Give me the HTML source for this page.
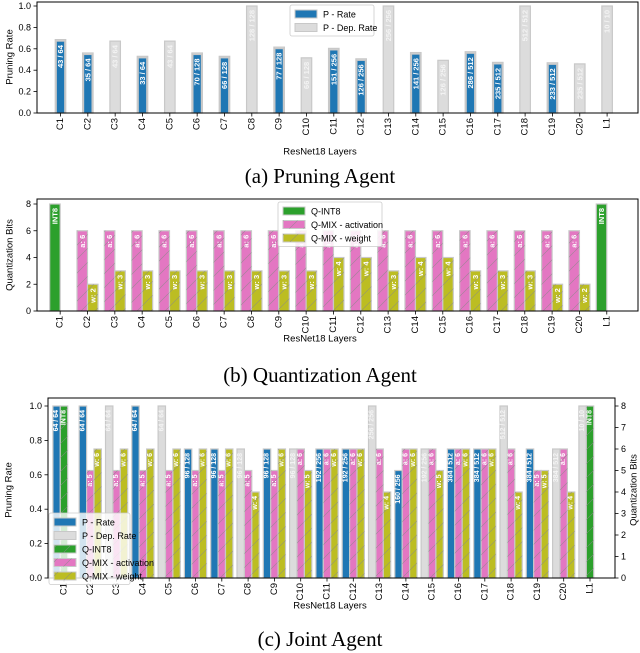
<!DOCTYPE html>
<html><head><meta charset="utf-8">
<style>
body{margin:0;background:#fff;width:640px;height:653px;overflow:hidden;font-family:"Liberation Sans",sans-serif}
svg{display:block}
.cap{font-family:"Liberation Serif",serif;font-size:21px;fill:#000}
</style></head>
<body>
<svg id="fig" width="640" height="653" viewBox="0 0 640 653" xmlns="http://www.w3.org/2000/svg">
<defs>
<pattern id="hatch" patternUnits="userSpaceOnUse" width="14" height="14" patternTransform="rotate(0)">
<path d="M0,14 L14,0" stroke="#888" stroke-width="0.6" opacity="0.8"/>
</pattern>
</defs>
<text class="cap" x="320" y="183" text-anchor="middle">(a) Pruning Agent</text>
<text class="cap" x="320" y="382" text-anchor="middle">(b) Quantization Agent</text>
<text class="cap" x="320" y="646" text-anchor="middle">(c) Joint Agent</text>
</svg>
<script>
const layers = ["C1","C2","C3","C4","C5","C6","C7","C8","C9","C10","C11","C12","C13","C14","C15","C16","C17","C18","C19","C20","L1"];
// chart a
const aKind = ["p","p","d","p","d","p","p","d","p","d","p","p","d","p","d","p","p","d","p","d","d"];
const aPruned = [43,35,43,33,43,70,66,128,77,66,151,126,256,141,126,286,235,512,233,235,10];
const aTotal = [64,64,64,64,64,128,128,128,128,128,256,256,256,256,256,512,512,512,512,512,10];
const aYTicks = [0,0.2,0.4,0.6,0.8,1.0];
// chart b
const bAct = [8,6,6,6,6,6,6,6,6,6,6,6,6,6,6,6,6,6,6,6,8];
const bWeight = [0,2,3,3,3,3,3,3,3,3,4,4,3,4,4,3,3,3,2,2,0];
const bYTicks = [0,2,4,6,8];
// chart c
const cKind = ["p","p","d","p","d","p","p","d","p","d","p","p","d","p","d","p","p","d","p","d","d"];
const cPruned = [64,64,64,64,64,96,96,96,96,96,192,192,256,160,192,384,384,512,384,384,10];
const cTotal = [64,64,64,64,64,128,128,128,128,128,256,256,256,256,256,512,512,512,512,512,10];
const cAct = [8,5,5,5,5,5,5,5,5,6,6,6,6,6,6,6,6,6,5,6,8];
const cWeight = [0,6,6,6,6,6,6,4,6,5,6,6,4,6,5,6,6,4,5,4,0];
const cYTicks = [0,0.2,0.4,0.6,0.8,1.0];
const cY2Ticks = [0,1,2,3,4,5,6,7,8];

const NS="http://www.w3.org/2000/svg";
const fig=document.getElementById('fig');
function el(tag,attrs,parent){const e=document.createElementNS(NS,tag);for(const k in attrs)e.setAttribute(k,attrs[k]);(parent||fig).appendChild(e);return e;}
const C={blue:"#1f77b4",gray:"#dcdcdc",green:"#2ca02c",pink:"#e377c2",yellow:"#bcbd22",edge:"#c8c8c8"};

function bar(x,w,yTop,yBot,fill,hatch,name){
  const r=el('rect',{x:x,y:yTop,width:w,height:Math.max(0,yBot-yTop),fill:fill,stroke:C.edge,'stroke-width':1.2});
  
  
  if(hatch){const h=el('rect',{x:x,y:yTop,width:w,height:Math.max(0,yBot-yTop),fill:'url(#hatch)'});
    
    }
  return r;
}
function vtext(x,y,str,color,size,bold,name){
  const t=el('text',{x:0,y:0,transform:`translate(${x},${y}) rotate(-90)`,'text-anchor':'end','dominant-baseline':'central','font-size':size,'font-weight':bold?'bold':'normal',fill:color});
  t.textContent=str;
  
  
  return t;
}
function frame(x0,x1,y0,y1,name){const r=el('rect',{x:x0,y:y0,width:x1-x0,height:y1-y0,fill:'none',stroke:'#000','stroke-width':1});
  
  }
function yAxis(ticks,fy,x,labelFn,right,name){
  ticks.forEach(v=>{const y=fy(v);
    el('line',{x1:x,x2:right?x+3.5:x-3.5,y1:y,y2:y,stroke:'#000','stroke-width':0.8});
    const t=el('text',{x:right?x+6:x-6,y:y,'text-anchor':right?'start':'end','dominant-baseline':'central','font-size':9,fill:'#000'});
    t.textContent=labelFn(v);
    
    
  });
}
function xAxis(fx,yb,name){
  layers.forEach((l,i)=>{const x=fx(i);
    el('line',{x1:x,x2:x,y1:yb,y2:yb+3.5,stroke:'#000','stroke-width':0.8});
    vtext(x,yb+5,l,'#000',9.5,false,name+'-tick-label');
  });
}
function title(x,y,str,rot,name){
  const t=el('text',{x:0,y:0,transform:`translate(${x},${y}) rotate(${rot})`,'text-anchor':'middle','dominant-baseline':'central','font-size':9.5,fill:'#000'});
  t.textContent=str;
  
  
}
function legend(x,y,w,entries,name,alpha){
  const g=el('g',{});
  
  
  el('rect',{x:x,y:y,width:w,height:entries.length*13.5+4,rx:2,fill:'#fff','fill-opacity':alpha,stroke:'#ccc','stroke-width':0.8},g);
  entries.forEach((e,k)=>{const yy=y+4+k*13.5;
    el('rect',{x:x+5,y:yy+1,width:22,height:8,fill:e[1],stroke:C.edge,'stroke-width':1},g);
    if(e[2])el('rect',{x:x+5,y:yy+1,width:22,height:8,fill:'url(#hatch)'},g);
    const t=el('text',{x:x+33,y:yy+5.5,'dominant-baseline':'central','font-size':9,fill:'#000'},g);
    t.textContent=e[0];
    
    
  });
}

// ---------- Chart A ----------
(function(){
  const x0=37,x1=638,y0=2,yb=113;
  const fx=i=>60.5+i*27.33, fy=v=>yb-v*(yb-6)/1.0;
  const w=10.5;
  layers.forEach((l,i)=>{
    const v=aPruned[i]/aTotal[i];const cx=fx(i);
    if(aKind[i]==='p'){
      bar(cx-w/2,w,fy(v)-1.5,yb,C.gray,false,'dep-bar-'+l);
      bar(cx-w/2+1,w-2,fy(v),yb,C.blue,false,'rate-bar-'+l);
    } else bar(cx-w/2,w,fy(v),yb,C.gray,false,'dep-bar-'+l);
    vtext(cx,fy(v)+4,aPruned[i]+' / '+aTotal[i],aKind[i]==='p'?'#fff':'#f4f4f4',7.5,true,'bar-label-'+l);
  });
  frame(x0,x1,y0,yb,'chart-a-frame');
  yAxis(aYTicks,fy,x0,v=>v.toFixed(1),false,'chart-a-y');
  xAxis(fx,yb,'chart-a-x');
  title(10,57,'Pruning Rate',-90,'chart-a-y-title');
  title(320,152,'ResNet18 Layers',0,'chart-a-x-title');
  legend(290,5,84,[['P - Rate',C.blue],['P - Dep. Rate',C.gray]],'chart-a-legend',0.85);
})();

// ---------- Chart B ----------
(function(){
  const x0=37,x1=638,y0=199,yb=311;
  const fx=i=>87.5+(i-1)*27.33, fy=v=>yb-v*(yb-204)/8;
  const w=10.5;
  layers.forEach((l,i)=>{
    const cx=fx(i);
    if(bWeight[i]===0){
      bar(cx-w,w,fy(bAct[i]),yb,C.green,false,'int8-bar-'+l);
      vtext(cx-w/2,fy(bAct[i])+4,'INT8','#fff',7.5,true,'bar-label-'+l);
    } else {
      bar(cx-w,w,fy(bAct[i]),yb,C.pink,true,'act-bar-'+l);
      vtext(cx-w/2,fy(bAct[i])+4,'a: '+bAct[i],'#fff',7.5,true,'act-label-'+l);
      bar(cx,w,fy(bWeight[i]),yb,C.yellow,true,'weight-bar-'+l);
      vtext(cx+w/2,fy(bWeight[i])+4,'w: '+bWeight[i],'#fff',7.5,true,'weight-label-'+l);
    }
  });
  frame(x0,x1,y0,yb,'chart-b-frame');
  yAxis(bYTicks,fy,x0,v=>String(v),false,'chart-b-y');
  xAxis(fx,yb,'chart-b-x');
  title(10,255,'Quantization Bits',-90,'chart-b-y-title');
  title(320,339,'ResNet18 Layers',0,'chart-b-x-title');
  legend(278,202,104,[['Q-INT8',C.green],['Q-MIX - activation',C.pink,true],['Q-MIX - weight',C.yellow,true]],'chart-b-legend',0.85);
})();

// ---------- Chart C ----------
(function(){
  const x0=48,x1=615,y0=398,yb=578;
  const fx=i=>64+i*26.3, fy=v=>yb-v*(yb-406)/1.0, fy2=v=>yb-v*(yb-406)/8;
  const w=7.4;
  layers.forEach((l,i)=>{
    const cx=fx(i);const v=cPruned[i]/cTotal[i];
    bar(cx-1.5*w,w,fy(v),yb,cKind[i]==='p'?C.blue:C.gray,false,(cKind[i]==='p'?'rate-bar-':'dep-bar-')+l);
    vtext(cx-w,fy(v)+4,cPruned[i]+' / '+cTotal[i],cKind[i]==='p'?'#fff':'#f4f4f4',7,true,'bar-label-'+l);
    if(cWeight[i]===0){
      bar(cx-w/2,w,fy2(cAct[i]),yb,C.green,true,'int8-bar-'+l);
      vtext(cx,fy2(cAct[i])+4,'INT8','#fff',7,true,'int8-label-'+l);
    } else {
      bar(cx-w/2,w,fy2(cAct[i]),yb,C.pink,true,'act-bar-'+l);
      vtext(cx,fy2(cAct[i])+4,'a: '+cAct[i],'#fff',7,true,'act-label-'+l);
      bar(cx+w/2,w,fy2(cWeight[i]),yb,C.yellow,true,'weight-bar-'+l);
      vtext(cx+w,fy2(cWeight[i])+4,'w: '+cWeight[i],'#fff',7,true,'weight-label-'+l);
    }
  });
  frame(x0,x1,y0,yb,'chart-c-frame');
  yAxis(cYTicks,fy,x0,v=>v.toFixed(1),false,'chart-c-y');
  yAxis(cY2Ticks,fy2,x1,v=>String(v),true,'chart-c-y2');
  xAxis(fx,yb,'chart-c-x');
  title(9,490,'Pruning Rate',-90,'chart-c-y-title');
  title(634,490,'Quantization Bits',-90,'chart-c-y2-title');
  title(330,606,'ResNet18 Layers',0,'chart-c-x-title');
  legend(49,513,81,[['P - Rate',C.blue],['P - Dep. Rate',C.gray],['Q-INT8',C.green,true],['Q-MIX - activation',C.pink,true],['Q-MIX - weight',C.yellow,true]],'chart-c-legend',0.8);
})();
</script>
</body></html>
